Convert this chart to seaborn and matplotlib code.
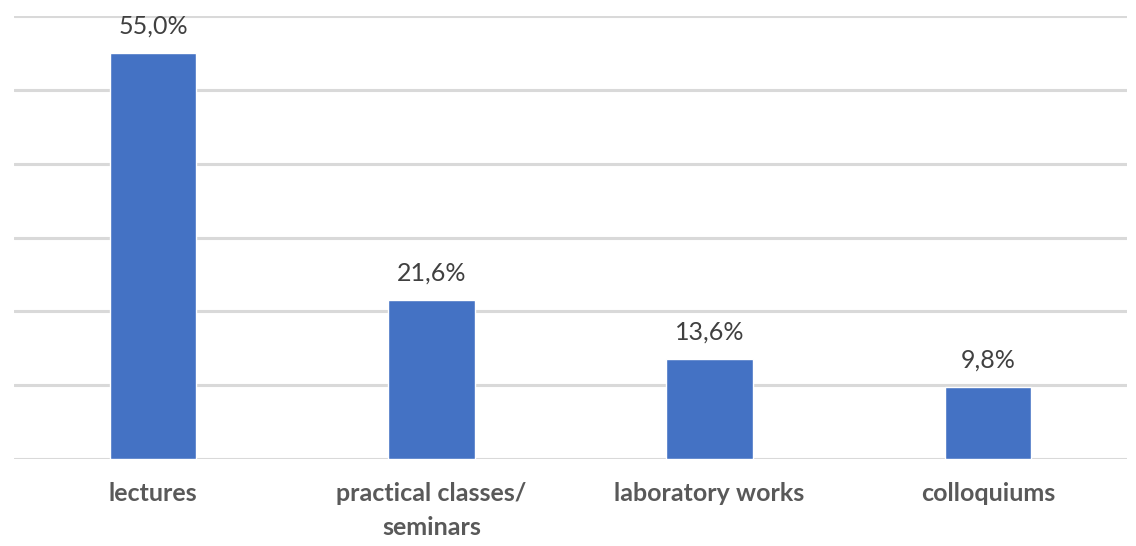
import matplotlib
matplotlib.use('Agg')
import matplotlib.pyplot as plt
import seaborn as sns
import pandas as pd

# Data
categories = ['lectures', 'practical classes/\nseminars', 'laboratory works', 'colloquiums']
shares = [55.0, 21.6, 13.6, 9.8]

data = pd.DataFrame({'category': categories, 'share': shares})

sns.set_style('white')
plt.rcParams['font.family'] = ['Lato', 'DejaVu Sans']

fig = plt.figure(figsize=(11.36, 5.46), dpi=100)
ax = fig.add_axes([14 / 1136, 87 / 546, 1113 / 1136, 443 / 546])

sns.barplot(data=data, x='category', y='share', color='#4472C4', width=0.31,
            saturation=1, ax=ax, zorder=3)

ax.set_ylim(0, 60)
ax.set_yticks(range(0, 61, 10))
ax.yaxis.grid(True, color='#D9D9D9', linewidth=2.2, zorder=0)
ax.set_axisbelow(True)
ax.tick_params(axis='y', left=False, labelleft=False)
ax.tick_params(axis='x', bottom=False, pad=13, labelsize=18, labelcolor='#595959')
for lbl in ax.get_xticklabels():
    lbl.set_fontweight('bold')
    lbl.set_linespacing(1.6)
ax.set_xlabel('')
ax.set_ylabel('')
for side in ['top', 'right', 'left', 'bottom']:
    ax.spines[side].set_visible(False)

labels = [f'{v:.1f}%'.replace('.', ',') for v in shares]
ax.bar_label(ax.containers[0], labels=labels, padding=11, fontsize=18, color='#404040')

fig.savefig('out.png', dpi=100)
